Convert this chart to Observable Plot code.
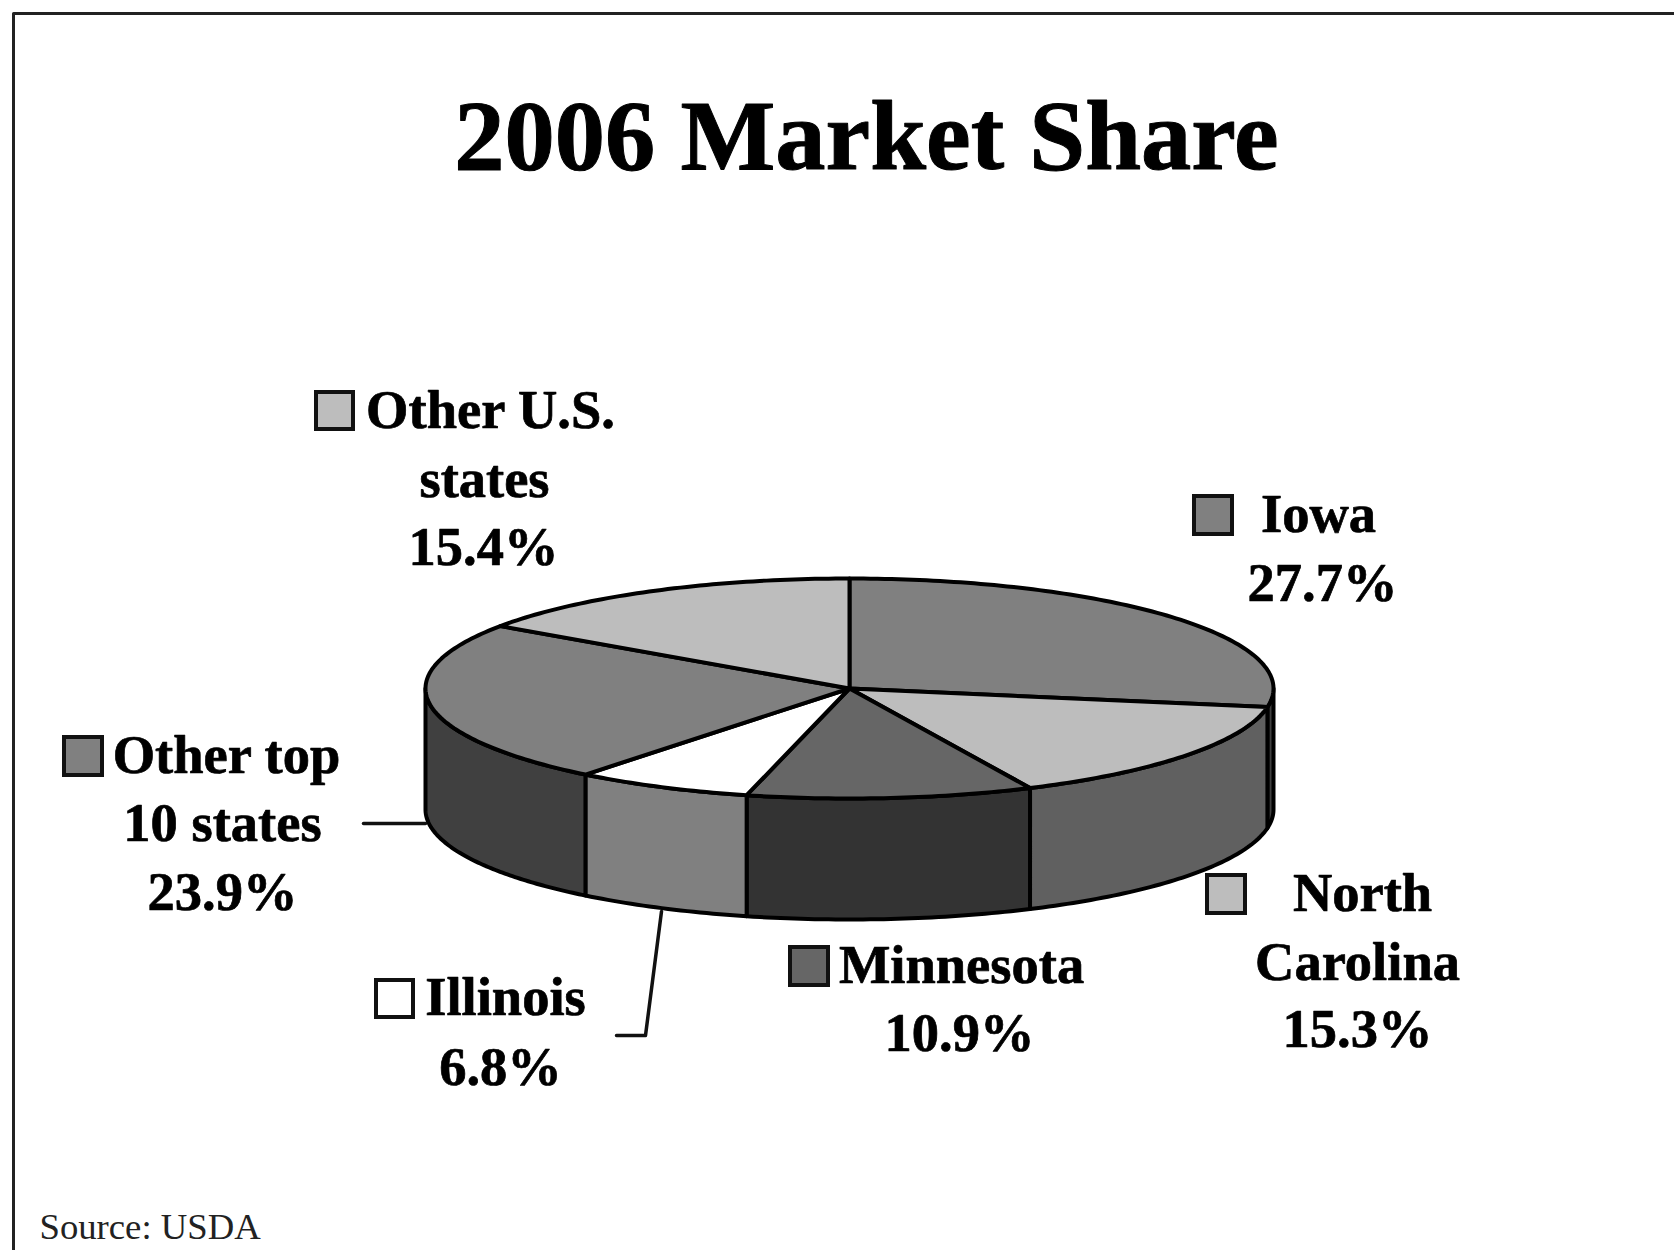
<!DOCTYPE html>
<html>
<head>
<meta charset="utf-8">
<script src="https://cdn.jsdelivr.net/npm/d3@7"></script>
<script src="https://cdn.jsdelivr.net/npm/@observablehq/plot@0.6"></script>
<style>
html,body{margin:0;padding:0;background:#fff;overflow:hidden}
svg{display:block}
</style>
</head>
<body>
<div id="chart"></div>
<script>
const categories = ["Iowa", "North Carolina", "Minnesota", "Illinois", "Other top 10 states", "Other U.S. states"];
const shares = [27.7, 15.3, 10.9, 6.8, 23.9, 15.4];
const labelLines = [
  ["Iowa", "27.7%"],
  ["North", "Carolina", "15.3%"],
  ["Minnesota", "10.9%"],
  ["Illinois", "6.8%"],
  ["Other top", "10 states", "23.9%"],
  ["Other U.S.", "states", "15.4%"]
];
const topColors = ["#808080", "#bdbdbd", "#666666", "#ffffff", "#808080", "#bdbdbd"];
const wallColors = ["#404040", "#606060", "#333333", "#808080", "#404040", "#404040"];

// layout, in picture pixels
const pie = {cx: 849, cy: 688, rx: 424, ry: 110, depth: 121};
const swatches = [[1194, 496, 38], [1207, 875, 38], [790, 947, 38], [376, 980, 37], [64, 737, 38], [316, 392, 37]];
const lineCenters = [
  [[1318, 514], [1322, 583]],
  [[1362, 893], [1357, 962], [1357, 1029]],
  [[961, 965], [959, 1033]],
  [[505, 997], [500, 1067]],
  [[226, 755], [222, 823], [222, 892]],
  [[490, 410], [484, 479], [483, 547]]
];
const leaders = [
  [[363, 823], [425, 823]],
  [[661, 911], [645, 1035], [616, 1035]]
];
const frame = [[13, 1260], [13, 13], [1680, 13]];

const TAU = 2 * Math.PI;
const fracs = shares.map(s => s / d3.sum(shares));
const starts = d3.cumsum([0, ...fracs]);
const pt = (a, dy = 0) => [pie.cx + pie.rx * Math.sin(a), pie.cy - pie.ry * Math.cos(a) + dy];

const topPts = [], wallPts = [];
categories.forEach((name, i) => {
  const a0 = starts[i] * TAU, a1 = starts[i + 1] * TAU;
  const n = Math.max(12, Math.ceil((a1 - a0) * 60));
  const arc = d3.range(n + 1).map(k => a0 + (a1 - a0) * k / n);
  const poly = [[pie.cx, pie.cy], ...arc.map(a => pt(a)), [pie.cx, pie.cy]];
  poly.forEach(([x, y]) => topPts.push({id: name, x, y, fill: topColors[i]}));
  // visible outer wall: the part of the rim on the viewer's side of the disc
  const w0 = Math.max(a0, TAU / 4), w1 = Math.min(a1, 3 * TAU / 4);
  if (w1 > w0) {
    const wArc = d3.range(n + 1).map(k => w0 + (w1 - w0) * k / n);
    const wall = [...wArc.map(a => pt(a)), ...wArc.slice().reverse().map(a => pt(a, pie.depth))];
    wall.push(wall[0]);
    wall.forEach(([x, y]) => wallPts.push({id: name, x, y, fill: wallColors[i]}));
  }
});

const boxes = categories.map((name, i) => ({x1: swatches[i][0], y1: swatches[i][1], x2: swatches[i][0] + swatches[i][2], y2: swatches[i][1] + swatches[i][2], fill: topColors[i]}));
const labels = labelLines.flatMap((lines, i) => lines.map((text, j) => ({text, x: lineCenters[i][j][0], y: lineCenters[i][j][1]})));
const leaderPts = leaders.flatMap((l, i) => l.map(([x, y]) => ({id: i, x, y})));
const framePts = frame.map(([x, y]) => ({x, y}));
const serif = "'Liberation Serif', 'Times New Roman', serif";

const chart = Plot.plot({
  width: 1674,
  height: 1250,
  margin: 0,
  style: {background: "#fff"},
  x: {axis: null, domain: [0, 1674], range: [0, 1674]},
  y: {axis: null, domain: [0, 1250], range: [0, 1250]},
  color: {type: "identity"},
  marks: [
    Plot.line(framePts, {x: "x", y: "y", stroke: "#222", strokeWidth: 3}),
    Plot.line(leaderPts, {x: "x", y: "y", z: "id", stroke: "#111", strokeWidth: 3.5}),
    Plot.line(wallPts, {x: "x", y: "y", z: "id", fill: "fill", stroke: "#000", strokeWidth: 4, strokeLinejoin: "round"}),
    Plot.line(topPts, {x: "x", y: "y", z: "id", fill: "fill", stroke: "#000", strokeWidth: 4, strokeLinejoin: "round"}),
    Plot.rect(boxes, {x1: "x1", x2: "x2", y1: "y1", y2: "y2", fill: "fill", stroke: "#111", strokeWidth: 4}),
    Plot.text(labels, {x: "x", y: "y", text: "text", fontFamily: serif, fontWeight: "bold", fontSize: 54.5, fill: "#000", stroke: "#000", strokeWidth: 0.7, textAnchor: "middle", lineAnchor: "middle"}),
    Plot.text(["2006 Market Share"], {x: () => 866, y: () => 136, text: d => d, fontFamily: serif, fontWeight: "bold", fontSize: 100.5, fill: "#000", stroke: "#000", strokeWidth: 1, textAnchor: "middle", lineAnchor: "middle"}),
    Plot.text(["Source: USDA"], {x: () => 39, y: () => 1227, text: d => d, fontFamily: serif, fontSize: 36.7, fill: "#222", textAnchor: "start", lineAnchor: "middle"})
  ]
});
document.getElementById("chart").appendChild(chart);
</script>
</body>
</html>
